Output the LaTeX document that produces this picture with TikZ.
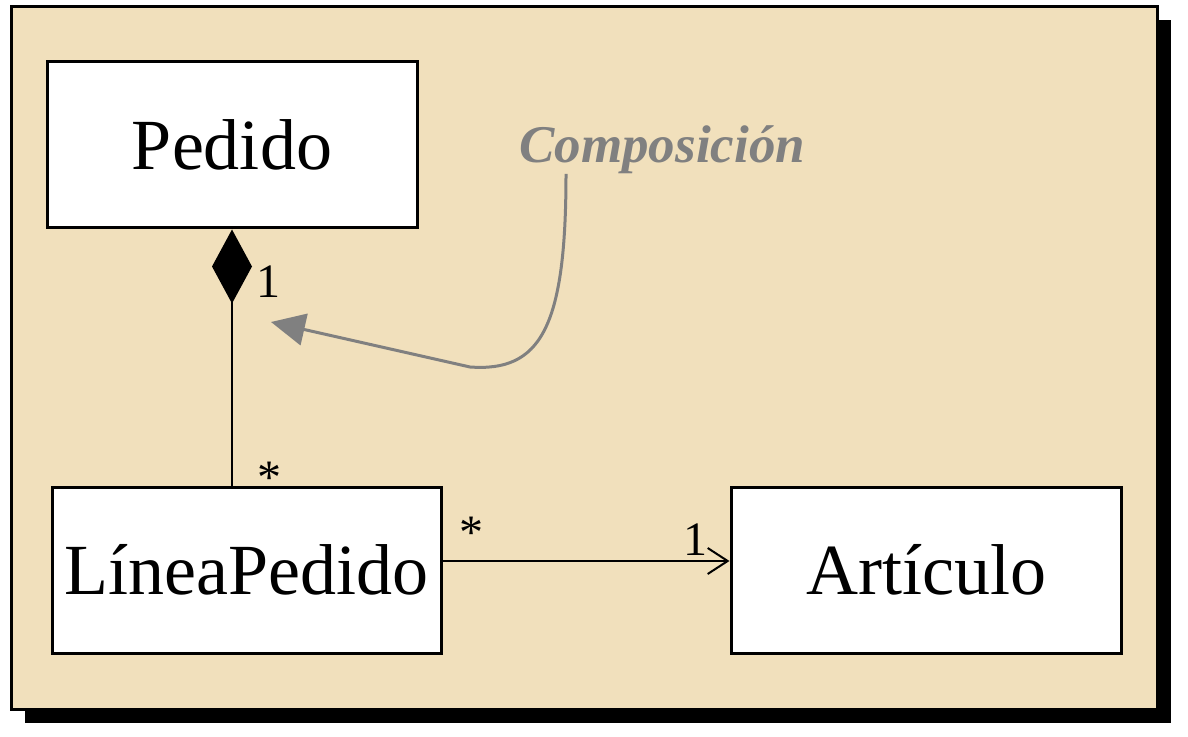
\documentclass[tikz,border=0pt]{standalone}
\usepackage{fontspec}
\setmainfont{Liberation Serif}
\usetikzlibrary{arrows.meta}
\definecolor{parchment}{RGB}{241,224,188}
\definecolor{notegray}{RGB}{128,128,128}
\begin{document}
\begin{tikzpicture}[x=0.5pt,y=-0.5pt]
\tikzset{classbox/.style = {draw, fill=white, line width=1.5pt, inner sep=0pt, minimum height=83pt, font=\fontsize{36}{40}\selectfont}}
\tikzset{mult/.style = {inner sep=0pt, font=\fontsize{24}{28}\selectfont}}
\tikzset{assoc/.style = {line width=1pt}}
\useasboundingbox (0,0) rectangle (1188,737);
% frame with shadow
\fill[black] (25,20) rectangle (1171,723);
\draw[line width=1.6pt, fill=parchment] (11.5,6.5) rectangle (1157.5,709.5);
% classes
\node[classbox, minimum width=185pt](ped) at (232,145) {Pedido};
\node[classbox, minimum width=194.5pt](lin) at (246.5,570) {LíneaPedido};
\node[classbox, minimum width=195pt](art) at (926,570) {Artículo};
% associations
\draw[assoc, {Diamond[length=37pt,width=20pt]}-] (ped.south) -- (ped.south |- lin.north);
\draw[assoc, -{Straight Barb[length=10pt,width=13pt]}] ([yshift=4.5pt]lin.east) -- ([yshift=4.5pt]art.west);
\node[mult] (m1) at (268,282) {1};
\node[mult] (m2) at (269,478) {*};
\node[mult] (m3) at (471,533) {*};
\node[mult] (m4) at (695,540) {1};
% note
\node[inner sep=0pt, text=notegray, font=\fontsize{26.5}{30}\selectfont\bfseries\itshape, anchor=south west] (comp) at (519,174) {Composición};
\coordinate (comptip) at (271,322);
\draw[notegray, line width=1.5pt, -{Triangle[length=17pt,width=16pt]}] ([xshift=23.5pt]comp.south west) .. controls +(0,155) and (540,372) .. (470,367) -- (comptip);
\end{tikzpicture}
\end{document}
